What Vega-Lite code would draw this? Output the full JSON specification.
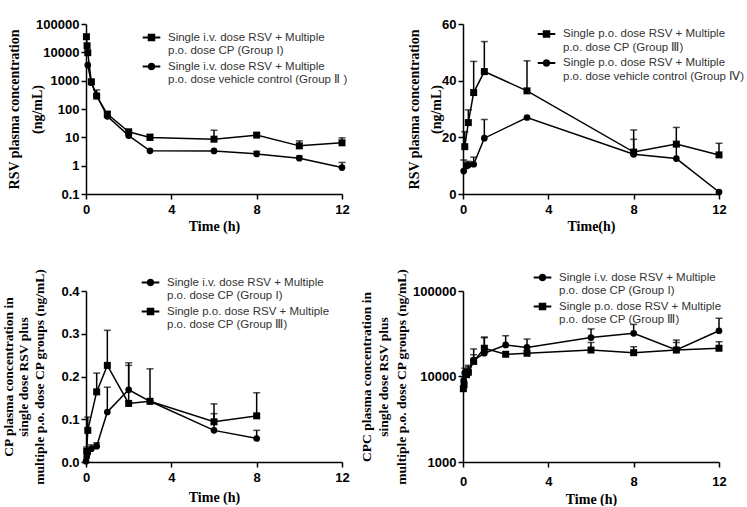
{
  "$schema": "https://vega.github.io/schema/vega-lite/v6.json",
  "background": "white",
  "padding": {"left": 0, "top": 18, "right": 0, "bottom": 0},
  "bounds": "flush",
  "columns": 2,
  "spacing": {"row": 97, "column": 121},
  "resolve": {"scale": {"x": "independent", "y": "independent", "color": "independent"}, "legend": {"color": "independent"}},
  "config": {
    "view": {"stroke": null},
    "axis": {"domainColor": "black", "domainWidth": 1.5, "tickColor": "black", "tickWidth": 1.5, "tickSize": 5, "labelFont": "Liberation Sans", "labelFontSize": 13, "labelFontWeight": "bold", "labelColor": "black", "labelPadding": 2, "titleFont": "Liberation Serif", "titleFontSize": 14, "titleFontWeight": "bold", "titleColor": "black", "grid": false, "labelFlush": false, "labelOverlap": false},
    "legend": {"title": null, "orient": "none", "padding": 0, "rowPadding": 3, "symbolSize": 147, "labelOffset": 10, "labelFont": "Liberation Sans", "labelFontSize": 11.5, "labelColor": "#333333", "labelLimit": 400, "symbolFillColor": "black", "symbolStrokeWidth": 0}
  },
  "datasets": {
    "p1": [
      {"group": "Single i.v. dose RSV + Multiple p.o. dose CP (Group I)", "t": 0.02, "v": 35600},
      {"group": "Single i.v. dose RSV + Multiple p.o. dose CP (Group I)", "t": 0.05, "v": 17100},
      {"group": "Single i.v. dose RSV + Multiple p.o. dose CP (Group I)", "t": 0.083, "v": 9700},
      {"group": "Single i.v. dose RSV + Multiple p.o. dose CP (Group I)", "t": 0.25, "v": 915},
      {"group": "Single i.v. dose RSV + Multiple p.o. dose CP (Group I)", "t": 0.5, "v": 286, "hi": 470},
      {"group": "Single i.v. dose RSV + Multiple p.o. dose CP (Group I)", "t": 1, "v": 66, "hi": 80},
      {"group": "Single i.v. dose RSV + Multiple p.o. dose CP (Group I)", "t": 2, "v": 15.7, "hi": 18.5},
      {"group": "Single i.v. dose RSV + Multiple p.o. dose CP (Group I)", "t": 3, "v": 9.9, "hi": 12.9},
      {"group": "Single i.v. dose RSV + Multiple p.o. dose CP (Group I)", "t": 6, "v": 8.6, "hi": 17.8},
      {"group": "Single i.v. dose RSV + Multiple p.o. dose CP (Group I)", "t": 8, "v": 12, "hi": 13.8},
      {"group": "Single i.v. dose RSV + Multiple p.o. dose CP (Group I)", "t": 10, "v": 5, "hi": 7.5},
      {"group": "Single i.v. dose RSV + Multiple p.o. dose CP (Group I)", "t": 12, "v": 6.4, "hi": 9.6},
      {"group": "Single i.v. dose RSV + Multiple p.o. dose vehicle control (Group Ⅱ )", "t": 0.083, "v": 3550},
      {"group": "Single i.v. dose RSV + Multiple p.o. dose vehicle control (Group Ⅱ )", "t": 0.25, "v": 850},
      {"group": "Single i.v. dose RSV + Multiple p.o. dose vehicle control (Group Ⅱ )", "t": 0.5, "v": 300},
      {"group": "Single i.v. dose RSV + Multiple p.o. dose vehicle control (Group Ⅱ )", "t": 1, "v": 55},
      {"group": "Single i.v. dose RSV + Multiple p.o. dose vehicle control (Group Ⅱ )", "t": 2, "v": 11.5},
      {"group": "Single i.v. dose RSV + Multiple p.o. dose vehicle control (Group Ⅱ )", "t": 3, "v": 3.33},
      {"group": "Single i.v. dose RSV + Multiple p.o. dose vehicle control (Group Ⅱ )", "t": 6, "v": 3.3},
      {"group": "Single i.v. dose RSV + Multiple p.o. dose vehicle control (Group Ⅱ )", "t": 8, "v": 2.6, "hi": 3.2},
      {"group": "Single i.v. dose RSV + Multiple p.o. dose vehicle control (Group Ⅱ )", "t": 10, "v": 1.84, "hi": 2.2},
      {"group": "Single i.v. dose RSV + Multiple p.o. dose vehicle control (Group Ⅱ )", "t": 12, "v": 0.86, "hi": 1.3}
    ],
    "p2": [
      {"group": "Single p.o. dose RSV + Multiple p.o. dose CP (Group Ⅲ)", "t": 0.083, "v": 16.7, "hi": 22},
      {"group": "Single p.o. dose RSV + Multiple p.o. dose CP (Group Ⅲ)", "t": 0.25, "v": 25.2, "hi": 29.7},
      {"group": "Single p.o. dose RSV + Multiple p.o. dose CP (Group Ⅲ)", "t": 0.5, "v": 35.8, "hi": 46.8},
      {"group": "Single p.o. dose RSV + Multiple p.o. dose CP (Group Ⅲ)", "t": 1, "v": 43.2, "hi": 53.8},
      {"group": "Single p.o. dose RSV + Multiple p.o. dose CP (Group Ⅲ)", "t": 3, "v": 36.4, "hi": 47},
      {"group": "Single p.o. dose RSV + Multiple p.o. dose CP (Group Ⅲ)", "t": 8, "v": 14.8, "hi": 22.6},
      {"group": "Single p.o. dose RSV + Multiple p.o. dose CP (Group Ⅲ)", "t": 10, "v": 17.6, "hi": 23.5},
      {"group": "Single p.o. dose RSV + Multiple p.o. dose CP (Group Ⅲ)", "t": 12, "v": 13.8, "hi": 17.9},
      {"group": "Single p.o. dose RSV + Multiple p.o. dose vehicle control (Group Ⅳ)", "t": 0.033, "v": 8.1, "hi": 12},
      {"group": "Single p.o. dose RSV + Multiple p.o. dose vehicle control (Group Ⅳ)", "t": 0.167, "v": 9.9, "hi": 11},
      {"group": "Single p.o. dose RSV + Multiple p.o. dose vehicle control (Group Ⅳ)", "t": 0.25, "v": 10.2, "hi": 11.5},
      {"group": "Single p.o. dose RSV + Multiple p.o. dose vehicle control (Group Ⅳ)", "t": 0.5, "v": 10.5, "hi": 13},
      {"group": "Single p.o. dose RSV + Multiple p.o. dose vehicle control (Group Ⅳ)", "t": 1, "v": 19.7, "hi": 26.3},
      {"group": "Single p.o. dose RSV + Multiple p.o. dose vehicle control (Group Ⅳ)", "t": 3, "v": 27},
      {"group": "Single p.o. dose RSV + Multiple p.o. dose vehicle control (Group Ⅳ)", "t": 8, "v": 14, "hi": 19.3},
      {"group": "Single p.o. dose RSV + Multiple p.o. dose vehicle control (Group Ⅳ)", "t": 10, "v": 12.5, "hi": 17},
      {"group": "Single p.o. dose RSV + Multiple p.o. dose vehicle control (Group Ⅳ)", "t": 12, "v": 0.7}
    ],
    "p3": [
      {"group": "Single i.v. dose RSV + Multiple p.o. dose CP (Group I)", "t": 0, "v": 0.002},
      {"group": "Single i.v. dose RSV + Multiple p.o. dose CP (Group I)", "t": 0.033, "v": 0.012},
      {"group": "Single i.v. dose RSV + Multiple p.o. dose CP (Group I)", "t": 0.083, "v": 0.021, "hi": 0.03},
      {"group": "Single i.v. dose RSV + Multiple p.o. dose CP (Group I)", "t": 0.25, "v": 0.031, "hi": 0.04},
      {"group": "Single i.v. dose RSV + Multiple p.o. dose CP (Group I)", "t": 0.5, "v": 0.037, "hi": 0.045},
      {"group": "Single i.v. dose RSV + Multiple p.o. dose CP (Group I)", "t": 1, "v": 0.117, "hi": 0.175},
      {"group": "Single i.v. dose RSV + Multiple p.o. dose CP (Group I)", "t": 2, "v": 0.169, "hi": 0.232},
      {"group": "Single i.v. dose RSV + Multiple p.o. dose CP (Group I)", "t": 3, "v": 0.142},
      {"group": "Single i.v. dose RSV + Multiple p.o. dose CP (Group I)", "t": 6, "v": 0.074, "hi": 0.113},
      {"group": "Single i.v. dose RSV + Multiple p.o. dose CP (Group I)", "t": 8, "v": 0.055, "hi": 0.074},
      {"group": "Single p.o. dose RSV + Multiple p.o. dose CP (Group Ⅲ)", "t": 0.033, "v": 0.025, "hi": 0.035},
      {"group": "Single p.o. dose RSV + Multiple p.o. dose CP (Group Ⅲ)", "t": 0.083, "v": 0.074, "hi": 0.105},
      {"group": "Single p.o. dose RSV + Multiple p.o. dose CP (Group Ⅲ)", "t": 0.5, "v": 0.164, "hi": 0.208},
      {"group": "Single p.o. dose RSV + Multiple p.o. dose CP (Group Ⅲ)", "t": 1, "v": 0.226, "hi": 0.308},
      {"group": "Single p.o. dose RSV + Multiple p.o. dose CP (Group Ⅲ)", "t": 2, "v": 0.137, "hi": 0.226},
      {"group": "Single p.o. dose RSV + Multiple p.o. dose CP (Group Ⅲ)", "t": 3, "v": 0.142, "hi": 0.218},
      {"group": "Single p.o. dose RSV + Multiple p.o. dose CP (Group Ⅲ)", "t": 6, "v": 0.094, "hi": 0.136},
      {"group": "Single p.o. dose RSV + Multiple p.o. dose CP (Group Ⅲ)", "t": 8, "v": 0.108, "hi": 0.162}
    ],
    "p4": [
      {"group": "Single i.v. dose RSV + Multiple p.o. dose CP (Group I)", "t": 0.033, "v": 9000},
      {"group": "Single i.v. dose RSV + Multiple p.o. dose CP (Group I)", "t": 0.083, "v": 11000, "hi": 12500},
      {"group": "Single i.v. dose RSV + Multiple p.o. dose CP (Group I)", "t": 0.25, "v": 11500, "hi": 13500},
      {"group": "Single i.v. dose RSV + Multiple p.o. dose CP (Group I)", "t": 0.5, "v": 15500, "hi": 21000},
      {"group": "Single i.v. dose RSV + Multiple p.o. dose CP (Group I)", "t": 1, "v": 18700, "hi": 28400},
      {"group": "Single i.v. dose RSV + Multiple p.o. dose CP (Group I)", "t": 2, "v": 23400, "hi": 30000},
      {"group": "Single i.v. dose RSV + Multiple p.o. dose CP (Group I)", "t": 3, "v": 21900, "hi": 27400},
      {"group": "Single i.v. dose RSV + Multiple p.o. dose CP (Group I)", "t": 6, "v": 28500, "hi": 36000},
      {"group": "Single i.v. dose RSV + Multiple p.o. dose CP (Group I)", "t": 8, "v": 32000, "hi": 40700},
      {"group": "Single i.v. dose RSV + Multiple p.o. dose CP (Group I)", "t": 10, "v": 20500, "hi": 26700},
      {"group": "Single i.v. dose RSV + Multiple p.o. dose CP (Group I)", "t": 12, "v": 34300, "hi": 48000},
      {"group": "Single p.o. dose RSV + Multiple p.o. dose CP (Group Ⅲ)", "t": 0.017, "v": 7200},
      {"group": "Single p.o. dose RSV + Multiple p.o. dose CP (Group Ⅲ)", "t": 0.05, "v": 8000},
      {"group": "Single p.o. dose RSV + Multiple p.o. dose CP (Group Ⅲ)", "t": 0.167, "v": 10500},
      {"group": "Single p.o. dose RSV + Multiple p.o. dose CP (Group Ⅲ)", "t": 0.25, "v": 11200, "hi": 13000},
      {"group": "Single p.o. dose RSV + Multiple p.o. dose CP (Group Ⅲ)", "t": 0.5, "v": 15000, "hi": 18000},
      {"group": "Single p.o. dose RSV + Multiple p.o. dose CP (Group Ⅲ)", "t": 1, "v": 21400, "hi": 29000},
      {"group": "Single p.o. dose RSV + Multiple p.o. dose CP (Group Ⅲ)", "t": 2, "v": 18200},
      {"group": "Single p.o. dose RSV + Multiple p.o. dose CP (Group Ⅲ)", "t": 3, "v": 18700},
      {"group": "Single p.o. dose RSV + Multiple p.o. dose CP (Group Ⅲ)", "t": 6, "v": 20400, "hi": 25000},
      {"group": "Single p.o. dose RSV + Multiple p.o. dose CP (Group Ⅲ)", "t": 8, "v": 19000, "hi": 22300},
      {"group": "Single p.o. dose RSV + Multiple p.o. dose CP (Group Ⅲ)", "t": 10, "v": 20400, "hi": 25000},
      {"group": "Single p.o. dose RSV + Multiple p.o. dose CP (Group Ⅲ)", "t": 12, "v": 21400, "hi": 25500}
    ]
  },
  "concat": [
    {
      "width": 256, "height": 170,
      "data": {"name": "p1"},
      "encoding": {
        "x": {"field": "t", "type": "quantitative", "scale": {"domain": [0, 12], "nice": false}, "axis": {"values": [0, 4, 8, 12], "title": "Time (h)", "titlePadding": 3, "labelPadding": 4}},
        "y": {"field": "v", "type": "quantitative", "scale": {"type": "log", "domain": [0.1, 100000], "nice": false}, "axis": {"values": [0.1, 1, 10, 100, 1000, 10000, 100000], "format": ".1~f", "title": ["RSV plasma concentration", "(ng/mL)"], "titleLineHeight": 23, "titleX": -65, "titleBaseline": "bottom"}}
      },
      "layer": [
        {"transform": [{"filter": "isValid(datum.hi)"}], "mark": {"type": "rule", "color": "black", "strokeWidth": 1.5}, "encoding": {"y2": {"field": "hi"}}},
        {"transform": [{"filter": "isValid(datum.hi)"}], "mark": {"type": "tick", "orient": "horizontal", "color": "black", "size": 7, "thickness": 1.5},
         "encoding": {"y": {"field": "hi", "type": "quantitative", "scale": {"type": "log", "domain": [0.1, 100000], "nice": false}, "axis": {"values": [0.1, 1, 10, 100, 1000, 10000, 100000], "format": ".1~f", "title": ["RSV plasma concentration", "(ng/mL)"], "titleLineHeight": 23, "titleX": -65, "titleBaseline": "bottom"}}}},
        {"mark": {"type": "line", "color": "black", "strokeWidth": 1.5}, "encoding": {"detail": {"field": "group"}}},
        {"transform": [{"filter": "indexof(datum.group, 'Group I)') >= 0"}],
         "mark": {"type": "square", "filled": true, "opacity": 1, "size": 49},
         "encoding": {
           "color": {"field": "group", "type": "nominal", "scale": {"domain": ["Single i.v. dose RSV + Multiple p.o. dose CP (Group I)", "Single i.v. dose RSV + Multiple p.o. dose vehicle control (Group Ⅱ )"], "range": ["black", "black"]},
             "legend": {"legendX": 59, "legendY": 7,
               "labelExpr": "[substring(datum.label,0,31), substring(datum.label,32)]",
               "symbolType": {"expr": "indexof(datum.value, 'Group I)') >= 0 ? 'M-1.45,-0.16H1.45V0.16H-1.45Z M-0.62,-0.62H0.62V0.62H-0.62Z' : 'M-1.45,-0.16H1.45V0.16H-1.45Z M0.62,0A0.62,0.62,0,1,1,-0.62,0A0.62,0.62,0,1,1,0.62,0Z'"}}}}},
        {"transform": [{"filter": "indexof(datum.group, 'Group I)') < 0"}],
         "mark": {"type": "circle", "opacity": 1, "size": 45},
         "encoding": {
           "color": {"field": "group", "type": "nominal", "scale": {"domain": ["Single i.v. dose RSV + Multiple p.o. dose CP (Group I)", "Single i.v. dose RSV + Multiple p.o. dose vehicle control (Group Ⅱ )"], "range": ["black", "black"]},
             "legend": {"legendX": 59, "legendY": 7,
               "labelExpr": "[substring(datum.label,0,31), substring(datum.label,32)]",
               "symbolType": {"expr": "indexof(datum.value, 'Group I)') >= 0 ? 'M-1.45,-0.16H1.45V0.16H-1.45Z M-0.62,-0.62H0.62V0.62H-0.62Z' : 'M-1.45,-0.16H1.45V0.16H-1.45Z M0.62,0A0.62,0.62,0,1,1,-0.62,0A0.62,0.62,0,1,1,0.62,0Z'"}}}}}
      ]
    },
    {
      "width": 256, "height": 170,
      "data": {"name": "p2"},
      "encoding": {
        "x": {"field": "t", "type": "quantitative", "scale": {"domain": [0, 12], "nice": false}, "axis": {"values": [0, 4, 8, 12], "title": "Time(h)", "titlePadding": 3, "labelPadding": 4}},
        "y": {"field": "v", "type": "quantitative", "scale": {"domain": [0, 60], "nice": false}, "axis": {"values": [0, 20, 40, 60], "format": "d", "title": ["RSV plasma concentration", "(ng/mL)"], "titleLineHeight": 22, "titleX": -42, "titleBaseline": "bottom"}}
      },
      "layer": [
        {"transform": [{"filter": "isValid(datum.hi)"}], "mark": {"type": "rule", "color": "black", "strokeWidth": 1.5}, "encoding": {"y2": {"field": "hi"}}},
        {"transform": [{"filter": "isValid(datum.hi)"}], "mark": {"type": "tick", "orient": "horizontal", "color": "black", "size": 7, "thickness": 1.5},
         "encoding": {"y": {"field": "hi", "type": "quantitative", "scale": {"domain": [0, 60], "nice": false}, "axis": {"values": [0, 20, 40, 60], "format": "d", "title": ["RSV plasma concentration", "(ng/mL)"], "titleLineHeight": 22, "titleX": -42, "titleBaseline": "bottom"}}}},
        {"mark": {"type": "line", "color": "black", "strokeWidth": 1.5}, "encoding": {"detail": {"field": "group"}}},
        {"transform": [{"filter": "indexof(datum.group, 'Ⅲ') >= 0"}],
         "mark": {"type": "square", "filled": true, "opacity": 1, "size": 49},
         "encoding": {
           "color": {"field": "group", "type": "nominal", "scale": {"domain": ["Single p.o. dose RSV + Multiple p.o. dose CP (Group Ⅲ)", "Single p.o. dose RSV + Multiple p.o. dose vehicle control (Group Ⅳ)"], "range": ["black", "black"]},
             "legend": {"legendX": 77, "legendY": 3.5,
               "labelExpr": "[substring(datum.label,0,31), substring(datum.label,32)]",
               "symbolType": {"expr": "indexof(datum.value, 'Ⅲ') >= 0 ? 'M-1.45,-0.16H1.45V0.16H-1.45Z M-0.62,-0.62H0.62V0.62H-0.62Z' : 'M-1.45,-0.16H1.45V0.16H-1.45Z M0.62,0A0.62,0.62,0,1,1,-0.62,0A0.62,0.62,0,1,1,0.62,0Z'"}}}}},
        {"transform": [{"filter": "indexof(datum.group, 'Ⅲ') < 0"}],
         "mark": {"type": "circle", "opacity": 1, "size": 45},
         "encoding": {
           "color": {"field": "group", "type": "nominal", "scale": {"domain": ["Single p.o. dose RSV + Multiple p.o. dose CP (Group Ⅲ)", "Single p.o. dose RSV + Multiple p.o. dose vehicle control (Group Ⅳ)"], "range": ["black", "black"]},
             "legend": {"legendX": 77, "legendY": 3.5,
               "labelExpr": "[substring(datum.label,0,31), substring(datum.label,32)]",
               "symbolType": {"expr": "indexof(datum.value, 'Ⅲ') >= 0 ? 'M-1.45,-0.16H1.45V0.16H-1.45Z M-0.62,-0.62H0.62V0.62H-0.62Z' : 'M-1.45,-0.16H1.45V0.16H-1.45Z M0.62,0A0.62,0.62,0,1,1,-0.62,0A0.62,0.62,0,1,1,0.62,0Z'"}}}}}
      ]
    },
    {
      "width": 256, "height": 171,
      "data": {"name": "p3"},
      "encoding": {
        "x": {"field": "t", "type": "quantitative", "scale": {"domain": [0, 12], "nice": false}, "axis": {"values": [0, 4, 8, 12], "title": "Time (h)", "titlePadding": 6, "labelPadding": 4}},
        "y": {"field": "v", "type": "quantitative", "scale": {"domain": [0, 0.4], "nice": false}, "axis": {"values": [0, 0.1, 0.2, 0.3, 0.4], "format": ".1f", "title": ["CP plasma concentration in", "single dose RSV plus", "multiple p.o. dose CP groups (ng/mL)"], "titleFontSize": 13.5, "titleLineHeight": 15.5, "titleX": -71, "titleBaseline": "bottom"}}
      },
      "layer": [
        {"transform": [{"filter": "isValid(datum.hi)"}], "mark": {"type": "rule", "color": "black", "strokeWidth": 1.5}, "encoding": {"y2": {"field": "hi"}}},
        {"transform": [{"filter": "isValid(datum.hi)"}], "mark": {"type": "tick", "orient": "horizontal", "color": "black", "size": 7, "thickness": 1.5},
         "encoding": {"y": {"field": "hi", "type": "quantitative", "scale": {"domain": [0, 0.4], "nice": false}, "axis": {"values": [0, 0.1, 0.2, 0.3, 0.4], "format": ".1f", "title": ["CP plasma concentration in", "single dose RSV plus", "multiple p.o. dose CP groups (ng/mL)"], "titleFontSize": 13.5, "titleLineHeight": 15.5, "titleX": -71, "titleBaseline": "bottom"}}}},
        {"mark": {"type": "line", "color": "black", "strokeWidth": 1.5}, "encoding": {"detail": {"field": "group"}}},
        {"transform": [{"filter": "indexof(datum.group, 'Ⅲ') < 0"}],
         "mark": {"type": "circle", "opacity": 1, "size": 45},
         "encoding": {
           "color": {"field": "group", "type": "nominal", "scale": {"domain": ["Single i.v. dose RSV + Multiple p.o. dose CP (Group I)", "Single p.o. dose RSV + Multiple p.o. dose CP (Group Ⅲ)"], "range": ["black", "black"]},
             "legend": {"legendX": 58, "legendY": -15,
               "labelExpr": "[substring(datum.label,0,31), substring(datum.label,32)]",
               "symbolType": {"expr": "indexof(datum.value, 'Ⅲ') >= 0 ? 'M-1.45,-0.16H1.45V0.16H-1.45Z M-0.62,-0.62H0.62V0.62H-0.62Z' : 'M-1.45,-0.16H1.45V0.16H-1.45Z M0.62,0A0.62,0.62,0,1,1,-0.62,0A0.62,0.62,0,1,1,0.62,0Z'"}}}}},
        {"transform": [{"filter": "indexof(datum.group, 'Ⅲ') >= 0"}],
         "mark": {"type": "square", "filled": true, "opacity": 1, "size": 49},
         "encoding": {
           "color": {"field": "group", "type": "nominal", "scale": {"domain": ["Single i.v. dose RSV + Multiple p.o. dose CP (Group I)", "Single p.o. dose RSV + Multiple p.o. dose CP (Group Ⅲ)"], "range": ["black", "black"]},
             "legend": {"legendX": 58, "legendY": -15,
               "labelExpr": "[substring(datum.label,0,31), substring(datum.label,32)]",
               "symbolType": {"expr": "indexof(datum.value, 'Ⅲ') >= 0 ? 'M-1.45,-0.16H1.45V0.16H-1.45Z M-0.62,-0.62H0.62V0.62H-0.62Z' : 'M-1.45,-0.16H1.45V0.16H-1.45Z M0.62,0A0.62,0.62,0,1,1,-0.62,0A0.62,0.62,0,1,1,0.62,0Z'"}}}}}
      ]
    },
    {
      "width": 256, "height": 171,
      "data": {"name": "p4"},
      "encoding": {
        "x": {"field": "t", "type": "quantitative", "scale": {"domain": [0, 12], "nice": false}, "axis": {"values": [0, 4, 8, 12], "title": "Time (h)", "titlePadding": 4, "labelPadding": 8}},
        "y": {"field": "v", "type": "quantitative", "scale": {"type": "log", "domain": [1000, 100000], "nice": false}, "axis": {"values": [1000, 10000, 100000], "format": "d", "title": ["CPC plasma concentration in", "single dose RSV plus", "multiple p.o. dose CP groups (ng/mL)"], "titleFontSize": 13.5, "titleLineHeight": 17.5, "titleX": -90, "titleBaseline": "bottom"}}
      },
      "layer": [
        {"transform": [{"filter": "isValid(datum.hi)"}], "mark": {"type": "rule", "color": "black", "strokeWidth": 1.5}, "encoding": {"y2": {"field": "hi"}}},
        {"transform": [{"filter": "isValid(datum.hi)"}], "mark": {"type": "tick", "orient": "horizontal", "color": "black", "size": 7, "thickness": 1.5},
         "encoding": {"y": {"field": "hi", "type": "quantitative", "scale": {"type": "log", "domain": [1000, 100000], "nice": false}, "axis": {"values": [1000, 10000, 100000], "format": "d", "title": ["CPC plasma concentration in", "single dose RSV plus", "multiple p.o. dose CP groups (ng/mL)"], "titleFontSize": 13.5, "titleLineHeight": 17.5, "titleX": -90, "titleBaseline": "bottom"}}}},
        {"mark": {"type": "line", "color": "black", "strokeWidth": 1.5}, "encoding": {"detail": {"field": "group"}}},
        {"transform": [{"filter": "indexof(datum.group, 'Ⅲ') < 0"}],
         "mark": {"type": "circle", "opacity": 1, "size": 45},
         "encoding": {
           "color": {"field": "group", "type": "nominal", "scale": {"domain": ["Single i.v. dose RSV + Multiple p.o. dose CP (Group I)", "Single p.o. dose RSV + Multiple p.o. dose CP (Group Ⅲ)"], "range": ["black", "black"]},
             "legend": {"legendX": 73, "legendY": -20,
               "labelExpr": "[substring(datum.label,0,31), substring(datum.label,32)]",
               "symbolType": {"expr": "indexof(datum.value, 'Ⅲ') >= 0 ? 'M-1.45,-0.16H1.45V0.16H-1.45Z M-0.62,-0.62H0.62V0.62H-0.62Z' : 'M-1.45,-0.16H1.45V0.16H-1.45Z M0.62,0A0.62,0.62,0,1,1,-0.62,0A0.62,0.62,0,1,1,0.62,0Z'"}}}}},
        {"transform": [{"filter": "indexof(datum.group, 'Ⅲ') >= 0"}],
         "mark": {"type": "square", "filled": true, "opacity": 1, "size": 49},
         "encoding": {
           "color": {"field": "group", "type": "nominal", "scale": {"domain": ["Single i.v. dose RSV + Multiple p.o. dose CP (Group I)", "Single p.o. dose RSV + Multiple p.o. dose CP (Group Ⅲ)"], "range": ["black", "black"]},
             "legend": {"legendX": 73, "legendY": -20,
               "labelExpr": "[substring(datum.label,0,31), substring(datum.label,32)]",
               "symbolType": {"expr": "indexof(datum.value, 'Ⅲ') >= 0 ? 'M-1.45,-0.16H1.45V0.16H-1.45Z M-0.62,-0.62H0.62V0.62H-0.62Z' : 'M-1.45,-0.16H1.45V0.16H-1.45Z M0.62,0A0.62,0.62,0,1,1,-0.62,0A0.62,0.62,0,1,1,0.62,0Z'"}}}}}
      ]
    }
  ]
}
